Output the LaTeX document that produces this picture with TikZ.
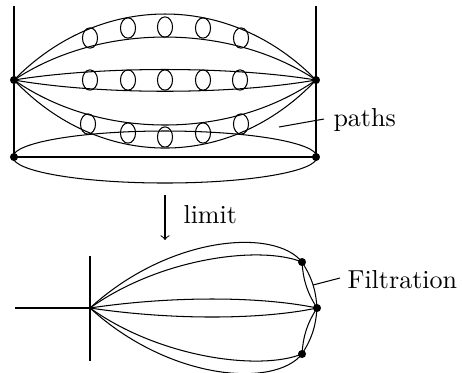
\documentclass[tikz,border=0pt]{standalone}
\begin{document}
\begin{tikzpicture}[x=0.3846pt,y=-0.3846pt,
  dot/.style={circle,fill=black,inner sep=0pt,minimum size=3.1pt},
  bead/.style={x radius=2.9pt,y radius=3.9pt},
  lbl/.style={inner sep=0pt,font=\normalsize}]
\useasboundingbox (0,0) rectangle (462,372);
% ---------- top part ----------
\node[dot] (L) at (14,80) {};
\node[dot] (R) at (316,80) {};
\node[dot] (BL) at (14,157) {};
\node[dot] (BR) at (316,157) {};
\coordinate (LT) at (14,6);
\coordinate (RT) at (316,6);
\draw (LT) -- (BL.center);
\draw (RT) -- (BR.center);
\draw (BL.center) -- (BR.center);
\draw (165,157) ellipse [x radius=58.5pt,y radius=10pt];
% paths between L and R
\draw (L.center) .. controls (100,-8) and (230,-8) .. (R.center);
\draw (L.center) .. controls (100,22.7) and (230,22.7) .. (R.center);
\draw (L.center) .. controls (100,66) and (230,66) .. (R.center);
\draw (L.center) .. controls (100,95) and (230,95) .. (R.center);
\draw (L.center) .. controls (100,140) and (230,140) .. (R.center);
\draw (L.center) .. controls (100,170.7) and (230,170.7) .. (R.center);
% beads
\foreach \x/\y in {90/38,128/28,165/27,203/28,241/38,
                   90/80,128/80,165/80,203/80,240/80,
                   88/124,128/133,165/137,203/133,241/124}
  \draw (\x,\y) ellipse [bead];
% paths label
\node[lbl,anchor=base west] (paths) at (333,126) {paths};
\coordinate (pl) at (279,127);
\draw (pl) -- (324,119);
% ---------- arrow ----------
\coordinate (a1) at (165,195);
\coordinate (a2) at (165,240);
\draw[->] (a1) -- (a2);
\node[lbl,anchor=base west] (limit) at (183,223) {limit};
% ---------- bottom part ----------
\coordinate (P) at (90,308);
\coordinate (H) at (15,308);
\coordinate (V1) at (90,256);
\coordinate (V2) at (90,361);
\draw (H) -- (P);
\draw (V1) -- (V2);
\node[dot] (T) at (302,262) {};
\node[dot] (M) at (317,308) {};
\node[dot] (B) at (302,354) {};
\draw (P) .. controls (170,235) and (275,228) .. (T.center);
\draw (P) .. controls (160,258) and (260,245) .. (T.center);
\draw (P) .. controls (170,296) and (260,296) .. (M.center);
\draw (P) .. controls (170,320) and (260,320) .. (M.center);
\draw (P) .. controls (160,358) and (260,371) .. (B.center);
\draw (P) .. controls (170,381) and (275,388) .. (B.center);
\draw (T.center) to[bend left=14] (M.center);
\draw (T.center) to[bend right=14] (M.center);
\draw (M.center) to[bend left=14] (B.center);
\draw (M.center) to[bend right=14] (B.center);
\node[lbl,anchor=west] (filt) at (347,280) {Filtration};
\coordinate (fl) at (313,285);
\draw (fl) -- (340,278);
\end{tikzpicture}
\end{document}
